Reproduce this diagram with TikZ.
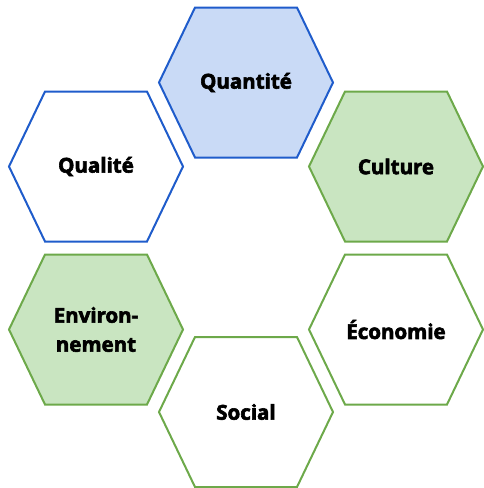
\documentclass[tikz,border=0pt]{standalone}
\usepackage{fontspec}
\setmainfont{Open Sans}
\newcommand{\heavytext}[1]{\special{pdf:literal direct 2 Tr 0.6 w}#1\special{pdf:literal direct 0 Tr}}
\definecolor{bluestroke}{HTML}{1F5CCB}
\definecolor{bluefill}{HTML}{C9DAF6}
\definecolor{greenstroke}{HTML}{6DA94A}
\definecolor{greenfill}{HTML}{C9E5C1}
\tikzset{
  hexlabel/.style={font=\fontsize{20.5}{29}\selectfont\bfseries, align=center, text=black},
  bluehex/.style={draw=bluestroke, line width=2pt, line join=miter},
  greenhex/.style={draw=greenstroke, line width=2pt, line join=miter},
}
\newcommand{\hexpath}[1]{(#1) ++(-87pt,0pt) -- ++(36pt,75pt) -- ++(102pt,0pt) -- ++(36pt,-75pt) -- ++(-36pt,-75pt) -- ++(-102pt,0pt) -- cycle}
\begin{document}
\begin{tikzpicture}[x=1pt,y=-1pt]
\useasboundingbox (0,0) rectangle (483,488);
\coordinate (cQuant) at (246,82.5);
\coordinate (cQual) at (96,166.5);
\coordinate (cCult) at (396,166.5);
\coordinate (cEnv) at (96,329.5);
\coordinate (cEco) at (396,329.5);
\coordinate (cSoc) at (246,412);
\draw[bluehex, fill=bluefill] \hexpath{cQuant};
\draw[bluehex, fill=white] \hexpath{cQual};
\draw[greenhex, fill=greenfill] \hexpath{cCult};
\draw[greenhex, fill=greenfill] \hexpath{cEnv};
\draw[greenhex, fill=white] \hexpath{cEco};
\draw[greenhex, fill=white] \hexpath{cSoc};
\node[hexlabel] (quant) at (cQuant) {\heavytext{Quantité}};
\node[hexlabel] (qual) at (cQual) {\heavytext{Qualité}};
\node[hexlabel] (cult) at (cCult) {\heavytext{Culture}};
\node[hexlabel] (env) at (cEnv) {\heavytext{Environ-}\\\heavytext{nement}};
\node[hexlabel] (eco) at (cEco) {\heavytext{Économie}};
\node[hexlabel] (soc) at (cSoc) {\heavytext{Social}};
\end{tikzpicture}
\end{document}
